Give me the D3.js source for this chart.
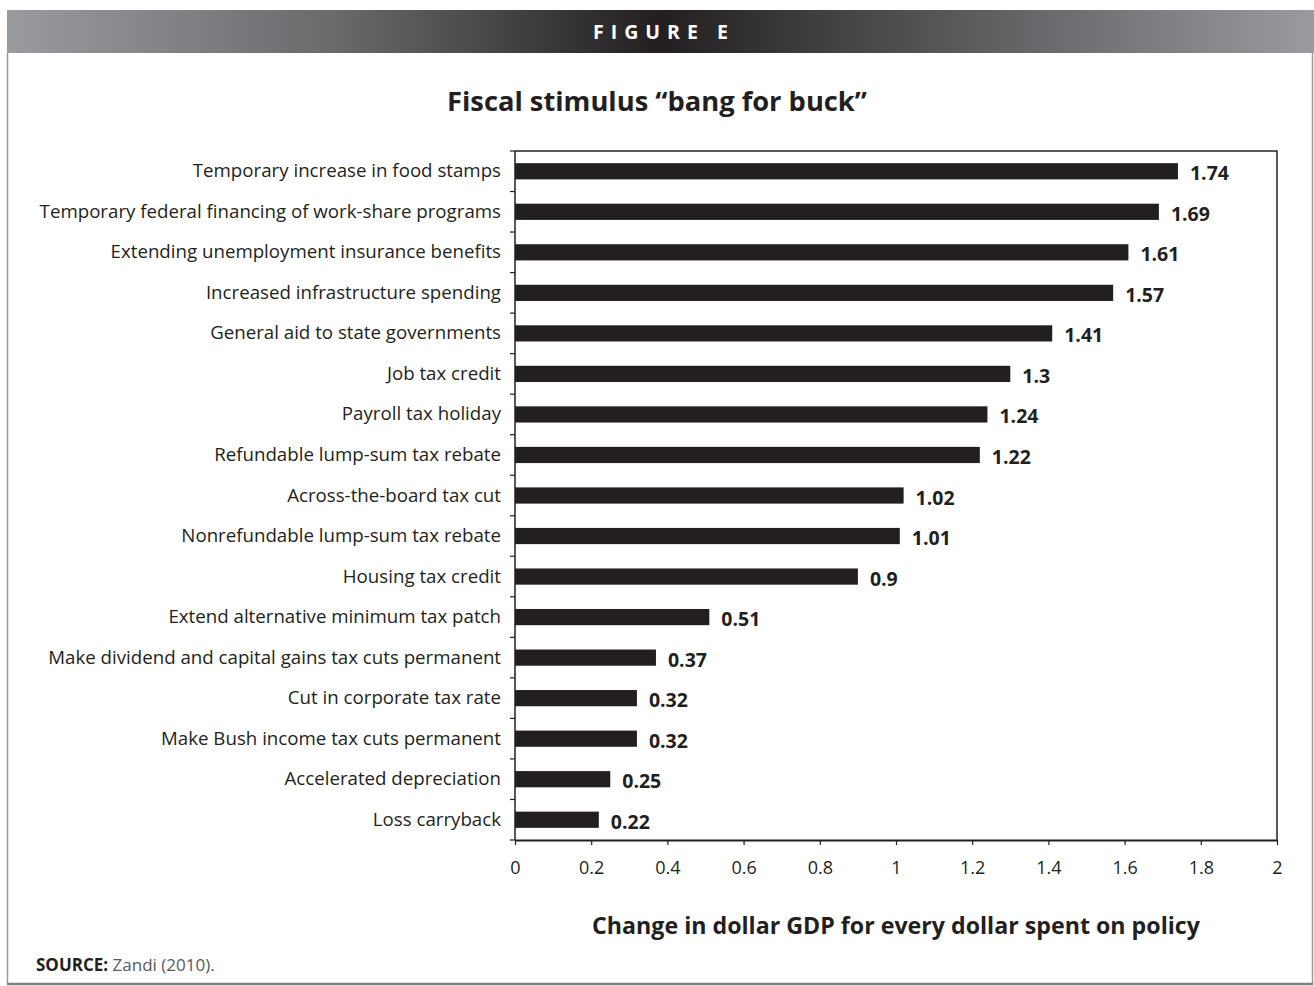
<!DOCTYPE html>
<html>
<head>
<meta charset="utf-8">
<script src="https://cdn.jsdelivr.net/npm/d3@7"></script>
<style>
  html, body { margin: 0; padding: 0; background: #fff; }
  svg { display: block; }
  text { font-family: "Open Sans", "Noto Sans", sans-serif; fill: #231f20; }
</style>
</head>
<body>
<svg id="chart" width="1314" height="986"></svg>
<script>
// Policies, ordered from highest to lowest multiplier
const policies = [
  "Temporary increase in food stamps",
  "Temporary federal financing of work-share programs",
  "Extending unemployment insurance benefits",
  "Increased infrastructure spending",
  "General aid to state governments",
  "Job tax credit",
  "Payroll tax holiday",
  "Refundable lump-sum tax rebate",
  "Across-the-board tax cut",
  "Nonrefundable lump-sum tax rebate",
  "Housing tax credit",
  "Extend alternative minimum tax patch",
  "Make dividend and capital gains tax cuts permanent",
  "Cut in corporate tax rate",
  "Make Bush income tax cuts permanent",
  "Accelerated depreciation",
  "Loss carryback"
];
const multipliers = [1.74, 1.69, 1.61, 1.57, 1.41, 1.3, 1.24, 1.22, 1.02, 1.01, 0.9, 0.51, 0.37, 0.32, 0.32, 0.25, 0.22];
const xTicks = [0, 0.2, 0.4, 0.6, 0.8, 1, 1.2, 1.4, 1.6, 1.8, 2];

const ink = "#231f20";
const svg = d3.select("#chart");

// Header band with a dark centre fading to grey at the edges
const defs = svg.append("defs");
const grad = defs.append("linearGradient").attr("id", "hdr").attr("x1", "0%").attr("x2", "100%");
[["0%", "#9a9b9e"], ["25%", "#6a6a6d"], ["50%", "#231f20"], ["75%", "#5f5f62"], ["100%", "#9a9b9e"]]
  .forEach(([o, c]) => grad.append("stop").attr("offset", o).attr("stop-color", c));
svg.append("rect").attr("x", 7).attr("y", 10).attr("width", 1307).attr("height", 43).attr("fill", "url(#hdr)");
svg.append("text").attr("x", 664).attr("y", 39).attr("text-anchor", "middle")
  .style("fill", "#fff").style("font-weight", 700).style("font-size", "19.5px").style("letter-spacing", "7px")
  .text("FIGURE E");

// Outer frame
svg.append("line").attr("x1", 7.5).attr("x2", 7.5).attr("y1", 53).attr("y2", 984).attr("stroke", "#9a9b9e").attr("stroke-width", 1.5);
svg.append("line").attr("x1", 1312.5).attr("x2", 1312.5).attr("y1", 53).attr("y2", 984).attr("stroke", "#9a9b9e").attr("stroke-width", 1.5);
svg.append("line").attr("x1", 7).attr("x2", 1313).attr("y1", 984).attr("y2", 984).attr("stroke", "#7d7e81").attr("stroke-width", 2.5);

// Title
svg.append("text").attr("x", 657).attr("y", 111).attr("text-anchor", "middle")
  .style("font-weight", 700).style("font-size", "27.3px")
  .text("Fiscal stimulus \u201cbang for buck\u201d");

// Plot area
const plot = { left: 515, right: 1277, top: 151, bottom: 840 };
const x = d3.scaleLinear().domain([0, 2]).range([plot.left, plot.right]);
const y = d3.scaleBand().domain(policies).range([plot.top, plot.bottom]).paddingInner(0.6).paddingOuter(0.3);
const yStep = d3.scaleBand().domain(policies).range([plot.top, plot.bottom]);

// Plot box (top and right edges)
svg.append("path")
  .attr("d", `M${plot.left},${plot.top}H${plot.right}V${plot.bottom}`)
  .attr("fill", "none").attr("stroke", ink).attr("stroke-width", 1.5);

// Bars
svg.append("g").selectAll("rect").data(policies).join("rect")
  .attr("x", x(0))
  .attr("y", d => y(d))
  .attr("width", (d, i) => x(multipliers[i]) - x(0))
  .attr("height", y.bandwidth())
  .attr("fill", ink);

// Value labels
svg.append("g").selectAll("text").data(policies).join("text")
  .attr("x", (d, i) => x(multipliers[i]) + 12)
  .attr("y", d => y(d) + y.bandwidth() / 2 + 9)
  .style("font-weight", 700).style("font-size", "19.5px")
  .text((d, i) => String(multipliers[i]));

// Y axis: ticks sit between categories
const yAxis = svg.append("g").attr("transform", `translate(${plot.left},0)`);
yAxis.append("line").attr("x1", 0).attr("x2", 0).attr("y1", plot.top).attr("y2", plot.bottom)
  .attr("stroke", ink).attr("stroke-width", 1.5);
const boundaries = policies.map(p => yStep(p)).concat([plot.bottom]);
yAxis.selectAll("line.tick").data(boundaries).join("line").attr("class", "tick")
  .attr("x1", -5).attr("x2", 0).attr("y1", d => d).attr("y2", d => d)
  .attr("stroke", ink).attr("stroke-width", 1.2);
yAxis.selectAll("text").data(policies).join("text")
  .attr("x", -14).attr("y", d => yStep(d) + yStep.bandwidth() / 2 + 6)
  .attr("text-anchor", "end").style("font-size", "18.7px")
  .text(d => d);

// X axis
const xAxis = d3.axisBottom(x).tickValues(xTicks).tickFormat(d3.format("")).tickSize(5).tickSizeOuter(0).tickPadding(16);
const xg = svg.append("g").attr("transform", `translate(0,${plot.bottom})`).call(xAxis);
xg.select(".domain").attr("stroke", ink).attr("stroke-width", 2);
xg.selectAll(".tick line").attr("stroke", ink).attr("stroke-width", 1.2);
xg.selectAll(".tick text").style("font-size", "18px").style("font-family", "'Open Sans', 'Noto Sans', sans-serif").attr("fill", ink);

// Axis title
svg.append("text").attr("x", (plot.left + plot.right) / 2).attr("y", 934).attr("text-anchor", "middle")
  .style("font-weight", 700).style("font-size", "23.2px")
  .text("Change in dollar GDP for every dollar spent on policy");

// Source note
const src = svg.append("text").attr("x", 36).attr("y", 971).style("font-size", "17px");
src.append("tspan").style("font-weight", 700).text("SOURCE:");
src.append("tspan").style("fill", "#58595b").text(" Zandi (2010).");
</script>
</body>
</html>
